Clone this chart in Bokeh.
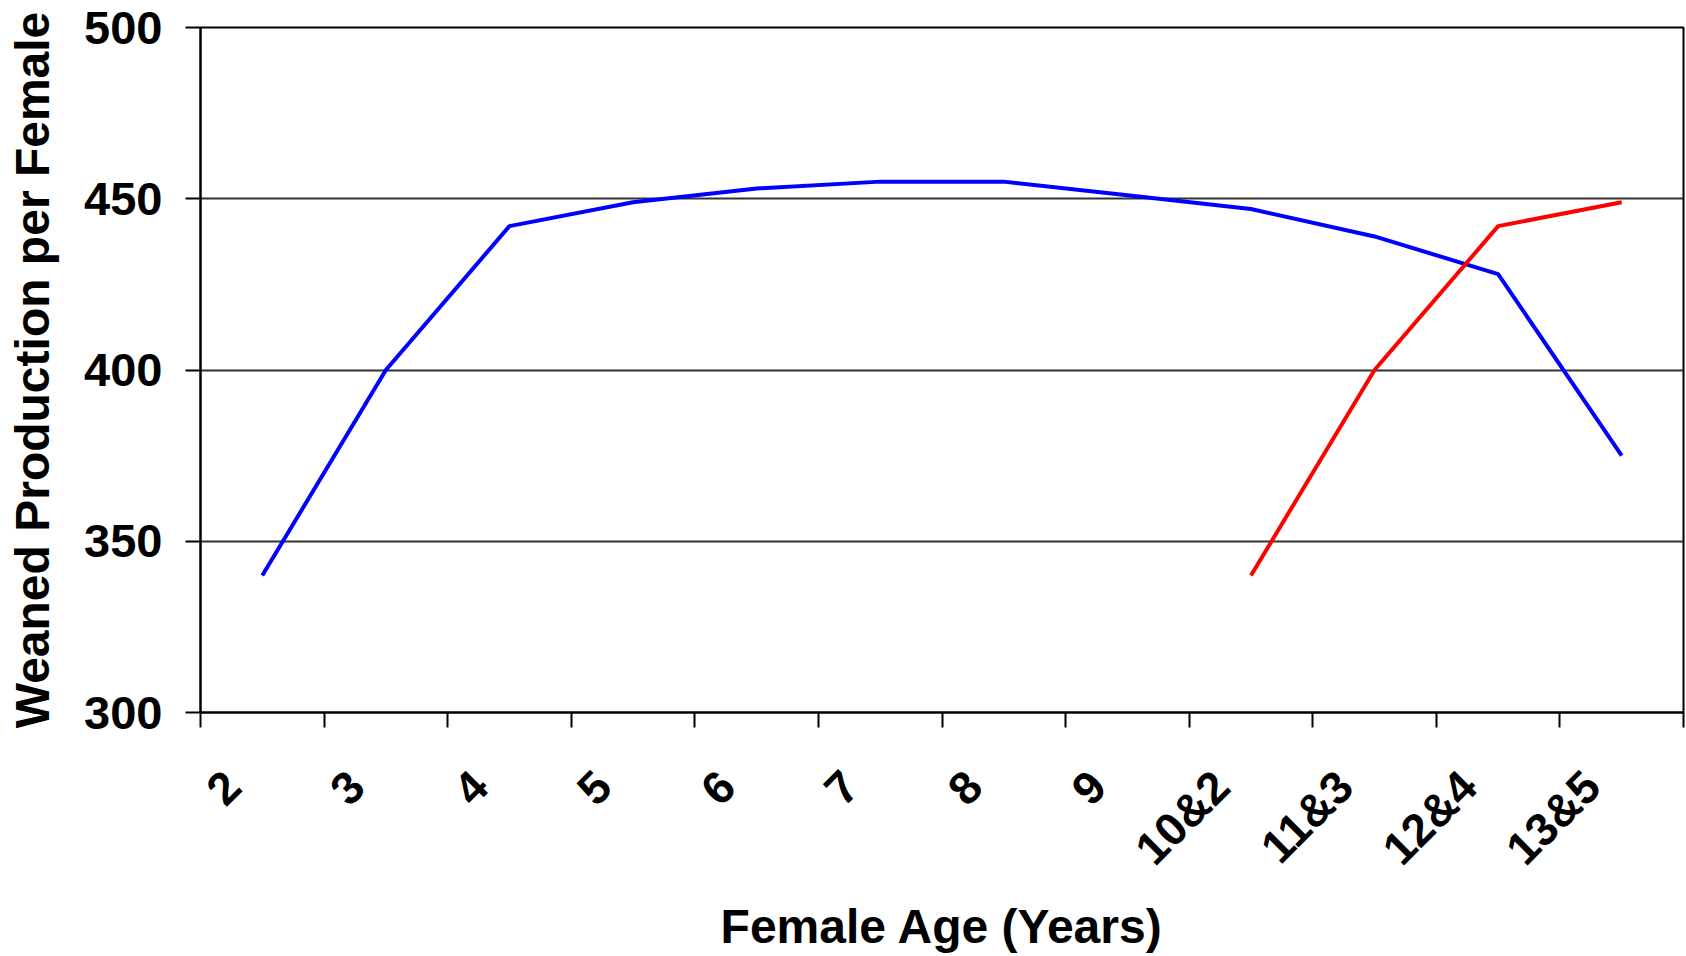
import math
from bokeh.plotting import figure
from bokeh.models import Range1d, FixedTicker, ColumnDataSource
from bokeh.embed import file_html
from bokeh.resources import INLINE

categories = ["2", "3", "4", "5", "6", "7", "8", "9", "10&2", "11&3", "12&4", "13&5"]
blue_values = [340, 400, 442, 449, 453, 455, 455, 451, 447, 439, 428, 375]
red_values = [float("nan")] * 8 + [340, 400, 442, 449]
y_ticks = [300, 350, 400, 450, 500]

centers = [i + 0.5 for i in range(len(categories))]
bounds = [float(i) for i in range(len(categories) + 1)]
label_shift = -0.24
label_pos = [c + label_shift for c in centers]

src = ColumnDataSource(dict(x=centers, blue=blue_values, red=red_values))

FONT = "Liberation Sans"

p = figure(width=1686, height=956, output_backend="svg", toolbar_location=None,
           x_range=Range1d(0, len(categories)), y_range=Range1d(300, 500),
           min_border_left=200, min_border_top=27, min_border_right=3, min_border_bottom=244)
p.background_fill_color = "white"
p.border_fill_color = "white"
p.outline_line_color = "black"
p.outline_line_width = 2

p.line("x", "blue", source=src, line_color="#0000FF", line_width=4)
p.line("x", "red", source=src, line_color="#FF0000", line_width=4)

# x axis
p.xaxis.ticker = FixedTicker(ticks=label_pos, minor_ticks=bounds)
p.xaxis.major_label_overrides = {c: lab for c, lab in zip(label_pos, categories)}
p.xaxis.major_tick_line_color = None
p.xaxis.minor_tick_line_color = "black"
p.xaxis.minor_tick_line_width = 2
p.xaxis.minor_tick_out = 15
p.xaxis.minor_tick_in = 0
p.xaxis.axis_line_color = "black"
p.xaxis.axis_line_width = 2
p.xaxis.major_label_orientation = math.pi / 4
p.xaxis.major_label_text_font = FONT
p.xaxis.major_label_text_font_style = "bold"
p.xaxis.major_label_text_font_size = "46px"
p.xaxis.major_label_text_color = "black"
p.xaxis.major_label_standoff = 51
p.xaxis.axis_label = "Female Age (Years)"
p.xaxis.axis_label_text_font = FONT
p.xaxis.axis_label_text_font_style = "bold"
p.xaxis.axis_label_text_font_size = "48px"
p.xaxis.axis_label_text_color = "black"
p.xaxis.axis_label_standoff = 4

# y axis
p.yaxis.ticker = FixedTicker(ticks=y_ticks)
p.yaxis.minor_tick_line_color = None
p.yaxis.major_tick_line_color = "black"
p.yaxis.major_tick_line_width = 2
p.yaxis.major_tick_out = 15
p.yaxis.major_tick_in = 0
p.yaxis.axis_line_color = "black"
p.yaxis.axis_line_width = 2
p.yaxis.major_label_text_font = FONT
p.yaxis.major_label_text_font_style = "bold"
p.yaxis.major_label_text_font_size = "47px"
p.yaxis.major_label_text_color = "black"
p.yaxis.major_label_standoff = 23
p.yaxis.axis_label = "Weaned Production per Female"
p.yaxis.axis_label_text_font = FONT
p.yaxis.axis_label_text_font_style = "bold"
p.yaxis.axis_label_text_font_size = "48px"
p.yaxis.axis_label_text_color = "black"
p.yaxis.axis_label_standoff = 22

p.xgrid.grid_line_color = None
p.ygrid.grid_line_color = "#333333"
p.ygrid.grid_line_width = 2

open("out.html", "w").write(file_html(p, INLINE))
